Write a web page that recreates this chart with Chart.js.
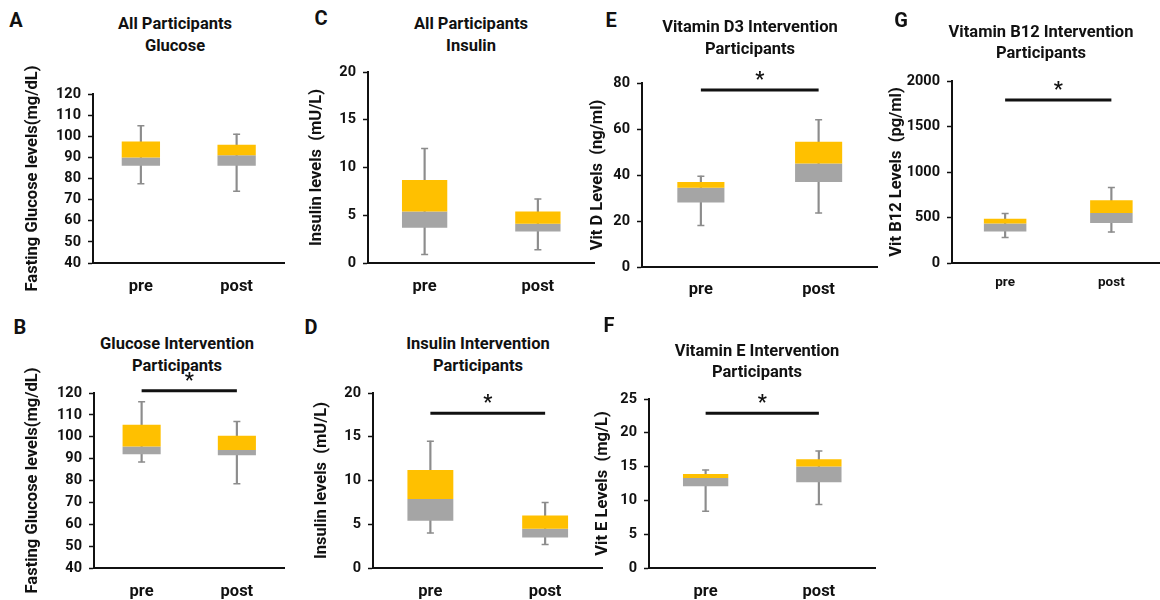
<!DOCTYPE html>
<html>
<head>
<meta charset="utf-8">
<script src="https://cdn.jsdelivr.net/npm/chart.js@4/dist/chart.umd.min.js"></script>
<style>
  html, body { margin: 0; padding: 0; background: #fff; overflow: hidden; }
  body { width: 1160px; height: 600px; position: relative; font-family: Roboto, "Noto Sans", sans-serif; color: #111; }
  .letter { position: absolute; width: 24px; text-align: center; font-weight: 700; font-size: 20px; line-height: 24px; }
  .title { position: absolute; width: 300px; text-align: center; font-weight: 700; font-size: 16.5px; }
  canvas { position: absolute; }
</style>
</head>
<body>
<script>
const categories = ['pre', 'post']

// [lower whisker, Q1, median, Q3, upper whisker]
const glucoseAllPre = [77.5, 86, 90, 97.5, 105]
const glucoseAllPost = [74, 86, 91, 96, 101]
const glucoseIntPre = [88.5, 92, 95.5, 105.5, 116]
const glucoseIntPost = [78.5, 91.5, 94, 100.5, 107]
const insulinAllPre = [0.9, 3.7, 5.4, 8.7, 12]
const insulinAllPost = [1.4, 3.3, 4.1, 5.4, 6.7]
const insulinIntPre = [4, 5.4, 7.9, 11.2, 14.5]
const insulinIntPost = [2.7, 3.5, 4.5, 6.0, 7.5]
const vitDPre = [18, 28, 34.5, 37, 39.5]
const vitDPost = [23.5, 37, 45, 54.5, 64]
const vitEPre = [8.4, 12.1, 13.3, 13.9, 14.5]
const vitEPost = [9.4, 12.7, 15, 16.1, 17.3]
const vitB12Pre = [280, 345, 435, 485, 545]
const vitB12Post = [340, 440, 550, 690, 830]

// level of the "*" significance bar, per panel A..G (null = none)
const sigLevels = [null, 121, null, 17.7, 77, 22.9, 1790]

const FONT = 'Roboto, "Noto Sans", sans-serif'
const GOLD = '#ffc000'
const GRAY = '#a5a5a5'
const WHISKER = '#8c8c8c'
const INK = '#111'

const panels = [
    {letter: 'A', lx: 16, ly: 20, title: ['All Participants', 'Glucose'], tx: 175, ty: 13, tlh: 22,
     pre: glucoseAllPre, post: glucoseAllPost, yTitle: 'Fasting Glucose levels(mg/dL)',
     yMin: 40, yMax: 120, yStep: 10, sig: sigLevels[0],
     left: 23, axisX: 93, right: 290, top: 94, bottom: 263, xFont: 16.5, xPad: 6},
    {letter: 'B', lx: 20, ly: 327, title: ['Glucose Intervention', 'Participants'], tx: 177, ty: 333, tlh: 22,
     pre: glucoseIntPre, post: glucoseIntPost, yTitle: 'Fasting Glucose levels(mg/dL)',
     yMin: 40, yMax: 120, yStep: 10, sig: sigLevels[1],
     left: 23, axisX: 94, right: 290, top: 393, bottom: 568, xFont: 16.5, xPad: 6},
    {letter: 'C', lx: 321, ly: 18, title: ['All Participants', 'Insulin'], tx: 471, ty: 13, tlh: 22,
     pre: insulinAllPre, post: insulinAllPost, yTitle: 'Insulin levels  (mU/L)',
     yMin: 0, yMax: 20, yStep: 5, sig: sigLevels[2],
     left: 307, axisX: 368, right: 600, top: 72, bottom: 263, xFont: 16.5, xPad: 6},
    {letter: 'D', lx: 311, ly: 327, title: ['Insulin Intervention', 'Participants'], tx: 478, ty: 333, tlh: 22,
     pre: insulinIntPre, post: insulinIntPost, yTitle: 'Insulin levels  (mU/L)',
     yMin: 0, yMax: 20, yStep: 5, sig: sigLevels[3],
     left: 312, axisX: 373, right: 608, top: 393, bottom: 568, xFont: 16.5, xPad: 6},
    {letter: 'E', lx: 611, ly: 20, title: ['Vitamin D3 Intervention', 'Participants'], tx: 750, ty: 16, tlh: 22,
     pre: vitDPre, post: vitDPost, yTitle: 'Vit D Levels  (ng/ml)',
     yMin: 0, yMax: 80, yStep: 20, sig: sigLevels[4],
     left: 588, axisX: 642, right: 883, top: 83, bottom: 267, xFont: 16.5, xPad: 5},
    {letter: 'F', lx: 609, ly: 325, title: ['Vitamin E Intervention', 'Participants'], tx: 757, ty: 340, tlh: 21,
     pre: vitEPre, post: vitEPost, yTitle: 'Vit E Levels  (mg/L)',
     yMin: 0, yMax: 25, yStep: 5, sig: sigLevels[5],
     left: 593, axisX: 649, right: 881, top: 399, bottom: 568, xFont: 16.5, xPad: 6},
    {letter: 'G', lx: 901, ly: 20, title: ['Vitamin B12 Intervention', 'Participants'], tx: 1041, ty: 21, tlh: 21,
     pre: vitB12Pre, post: vitB12Post, yTitle: 'Vit B12 Levels  (pg/ml)',
     yMin: 0, yMax: 2000, yStep: 500, sig: sigLevels[6],
     left: 887, axisX: 952, right: 1170, top: 81, bottom: 263, xFont: 13.5, xPad: 4},
]

// draws the "*" over each significance bar
const starPlugin = {
    id: 'sigStar',
    afterDatasetsDraw(chart) {
        chart.data.datasets.forEach((ds, i) => {
            if (!ds.sigBar) return
            const pts = chart.getDatasetMeta(i).data
            const x = (pts[0].x + pts[1].x) / 2
            const ctx = chart.ctx
            ctx.save()
            ctx.fillStyle = INK
            ctx.font = '700 20px ' + FONT
            ctx.textAlign = 'center'
            ctx.textBaseline = 'middle'
            ctx.fillText('*', x, pts[0].y - 9)
            ctx.restore()
        })
    }
}

function addText(cls, text, x, y, lh) {
    const d = document.createElement('div')
    d.className = cls
    d.innerHTML = text
    if (cls == 'title') {
        d.style.left = (x - 150) + 'px'
        d.style.top = y + 'px'
        d.style.lineHeight = lh + 'px'
    } else {
        d.style.left = (x - 12) + 'px'
        d.style.top = (y - 12) + 'px'
    }
    document.body.appendChild(d)
}

function makePanel(p) {
    addText('letter', p.letter, p.lx, p.ly)
    addText('title', p.title.join('<br>'), p.tx, p.ty, p.tlh)

    const padTop = 30, xH = 40
    const w = p.right - p.left
    const h = padTop + (p.bottom - p.top) + xH
    const c = document.createElement('canvas')
    c.width = w
    c.height = h
    c.style.width = w + 'px'
    c.style.height = h + 'px'
    c.style.left = p.left + 'px'
    c.style.top = (p.top - padTop) + 'px'
    document.body.appendChild(c)

    const pre = p.pre, post = p.post
    const datasets = [{
        type: 'bar',
        data: [[pre[0], pre[4]], [post[0], post[4]]],
        backgroundColor: WHISKER,
        barThickness: 1.5,
        grouped: false,
        order: 3,
    }, {
        type: 'bar',
        data: [[pre[1], pre[2]], [post[1], post[2]]],
        backgroundColor: GRAY,
        barPercentage: 0.4,
        categoryPercentage: 1,
        grouped: false,
        order: 2,
    }, {
        type: 'bar',
        data: [[pre[2], pre[3]], [post[2], post[3]]],
        backgroundColor: GOLD,
        barPercentage: 0.4,
        categoryPercentage: 1,
        grouped: false,
        order: 1,
    }, {
        type: 'scatter',
        data: [{x: 'pre', y: pre[0]}, {x: 'pre', y: pre[4]}, {x: 'post', y: post[0]}, {x: 'post', y: post[4]}],
        pointStyle: 'line',
        pointRadius: 3.5,
        borderColor: WHISKER,
        borderWidth: 1.5,
        order: 0,
    }]
    if (p.sig != null) {
        datasets.push({
            type: 'line',
            sigBar: true,
            data: [{x: 'pre', y: p.sig}, {x: 'post', y: p.sig}],
            borderColor: INK,
            borderWidth: 3,
            pointRadius: 0,
            clip: false,
            order: 0,
        })
    }

    new Chart(c, {
        type: 'bar',
        data: {labels: categories, datasets: datasets},
        options: {
            responsive: false,
            animation: false,
            events: [],
            layout: {padding: {top: padTop, left: 0, right: 0, bottom: 0}},
            plugins: {
                legend: {display: false},
                tooltip: {enabled: false},
            },
            scales: {
                x: {
                    type: 'category',
                    offset: true,
                    grid: {display: false},
                    border: {display: true, color: INK, width: 2},
                    ticks: {color: INK, padding: p.xPad, font: {family: FONT, size: p.xFont, weight: '700'}},
                    afterFit: s => { s.height = xH },
                },
                y: {
                    min: p.yMin,
                    max: p.yMax,
                    ticks: {stepSize: p.yStep, color: INK, padding: 7, font: {family: FONT, size: 14.5, weight: '700'},
                            callback: v => String(v)},
                    grid: {display: true, drawOnChartArea: false, drawTicks: true, tickLength: 5, tickColor: INK, tickWidth: 1.5},
                    border: {display: true, color: INK, width: 2},
                    title: {display: true, text: p.yTitle, color: INK, padding: 0, font: {family: FONT, size: 16.5, weight: '700'}},
                    afterFit: s => { s.width = p.axisX - p.left },
                },
            },
        },
        plugins: [starPlugin],
    })
}

panels.forEach(makePanel)
</script>
</body>
</html>
